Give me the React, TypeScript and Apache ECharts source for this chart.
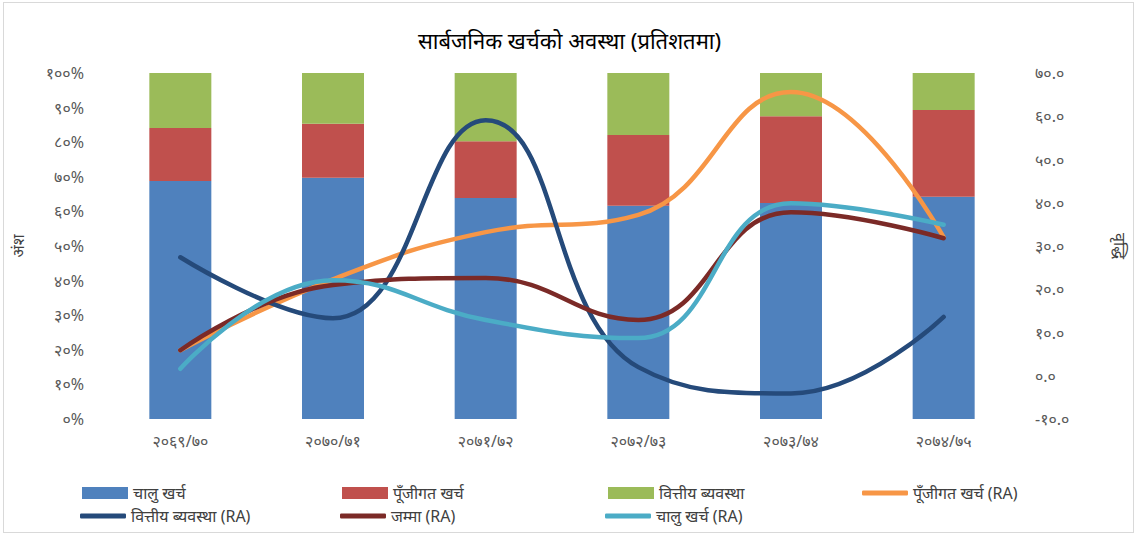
import React, { useEffect, useRef } from "react";
import * as echarts from "echarts";

const categories = ["२०६९/७०", "२०७०/७१", "२०७१/७२", "२०७२/७३", "२०७३/७४", "२०७४/७५"];

// stacked share (left axis, %)
const currentShare = [68.8, 69.7, 63.9, 61.6, 62.4, 64.2];
const capitalShare = [15.3, 15.6, 16.4, 20.5, 25.1, 25.1];
const financeShare = [15.9, 14.7, 19.7, 17.9, 12.5, 10.7];

// growth (right axis)
const capitalGrowth = [5.9, 22.3, 33.2, 37.2, 65.6, 32.0];
const financeGrowth = [27.4, 13.3, 59.1, 2.0, -4.1, 13.6];
const totalGrowth = [5.9, 21.0, 22.6, 12.9, 37.8, 31.8];
const currentGrowth = [1.6, 22.1, 12.9, 8.7, 39.9, 34.9];

const leftTickLabels = ["०%", "१०%", "२०%", "३०%", "४०%", "५०%", "६०%", "७०%", "८०%", "९०%", "१००%"];
const rightTickLabels = ["-१०.०", "०.०", "१०.०", "२०.०", "३०.०", "४०.०", "५०.०", "६०.०", "७०.०"];

const names = [
  "चालु खर्च",
  "पूँजीगत खर्च",
  "वित्तीय ब्यवस्था",
  "पूँजीगत खर्च (RA)",
  "वित्तीय ब्यवस्था (RA)",
  "जम्मा (RA)",
  "चालु खर्च (RA)",
];

const FONT = "'Noto Sans', 'Noto Sans Devanagari', 'Lohit Devanagari', sans-serif";

export default function App() {
  const ref = useRef<HTMLDivElement>(null);
  useEffect(() => {
    document.body.style.margin = "0";
    const chart = echarts.init(ref.current!, null, { renderer: "svg" });
    const legendPos = [
      [82, 485],
      [342, 485],
      [608, 485],
      [862, 485],
      [80, 508],
      [340, 508],
      [605, 508],
    ];
    const colors = ["#4F81BD", "#C0504D", "#9BBB59", "#F79646", "#254A7A", "#7B2A27", "#4BACC6"];
    const legends = names.map((n, i) => ({
      data: [{ name: n, icon: i < 3 ? "rect" : "roundRect", itemStyle: { color: colors[i] } }],
      left: legendPos[i][0],
      top: legendPos[i][1],
      itemWidth: 46,
      itemHeight: i < 3 ? 12 : 5,
      itemGap: 3,
      textStyle: { fontSize: 16, color: "#404040", fontFamily: FONT },
      padding: 0,
    }));
    const lineSeries = (name: string, data: number[], color: string) => ({
      name,
      type: "line",
      yAxisIndex: 1,
      data,
      smooth: 0.45,
      symbol: "none",
      lineStyle: { width: 4.5, color, cap: "round" },
      itemStyle: { color },
      z: 5,
    });
    chart.setOption({
      animation: false,
      backgroundColor: "#fff",
      title: {
        text: "सार्बजनिक खर्चको अवस्था (प्रतिशतमा)",
        left: "center",
        top: 24,
        textStyle: { fontSize: 22, fontWeight: "normal", color: "#000", fontFamily: FONT },
      },
      legend: legends,
      grid: { left: 104, right: 119, top: 73, bottom: 118 },
      xAxis: {
        type: "category",
        data: categories,
        axisLine: { show: false },
        axisTick: { show: false },
        axisLabel: { fontSize: 16, color: "#595959", margin: 14, fontFamily: FONT },
      },
      yAxis: [
        {
          type: "value",
          min: 0,
          max: 100,
          interval: 10,
          name: "अंश",
          nameLocation: "middle",
          nameGap: 78,
          nameRotate: 90,
          nameTextStyle: { fontSize: 16, color: "#404040", fontFamily: FONT },
          splitLine: { show: false },
          axisLine: { show: false },
          axisTick: { show: false },
          axisLabel: {
            fontSize: 16,
            color: "#595959",
            margin: 20,
            fontFamily: FONT,
            formatter: (v: number) => leftTickLabels[Math.round(v / 10)],
          },
        },
        {
          type: "value",
          min: -10,
          max: 70,
          interval: 10,
          name: "वृद्धि",
          nameLocation: "middle",
          nameGap: 92,
          nameRotate: -90,
          nameTextStyle: { fontSize: 16, color: "#404040", fontFamily: FONT },
          splitLine: { show: false },
          axisLine: { show: false },
          axisTick: { show: false },
          axisLabel: {
            fontSize: 16,
            color: "#595959",
            margin: 15,
            fontFamily: FONT,
            formatter: (v: number) => rightTickLabels[Math.round((v + 10) / 10)],
          },
        },
      ],
      series: [
        { name: names[0], type: "bar", stack: "s", data: currentShare, barWidth: 62, itemStyle: { color: colors[0] } },
        { name: names[1], type: "bar", stack: "s", data: capitalShare, barWidth: 62, itemStyle: { color: colors[1] } },
        { name: names[2], type: "bar", stack: "s", data: financeShare, barWidth: 62, itemStyle: { color: colors[2] } },
        lineSeries(names[3], capitalGrowth, colors[3]),
        lineSeries(names[4], financeGrowth, colors[4]),
        lineSeries(names[5], totalGrowth, colors[5]),
        lineSeries(names[6], currentGrowth, colors[6]),
      ],
    });
    return () => chart.dispose();
  }, []);
  return (
    <div style={{ width: 1139, height: 537, position: "relative", boxSizing: "border-box" }}>
      <div ref={ref} style={{ width: 1139, height: 537 }} />
      <div
        style={{
          position: "absolute",
          left: 3,
          top: 2,
          width: 1131,
          height: 531,
          border: "1px solid #d9d9d9",
          boxSizing: "border-box",
          pointerEvents: "none",
        }}
      />
    </div>
  );
}
